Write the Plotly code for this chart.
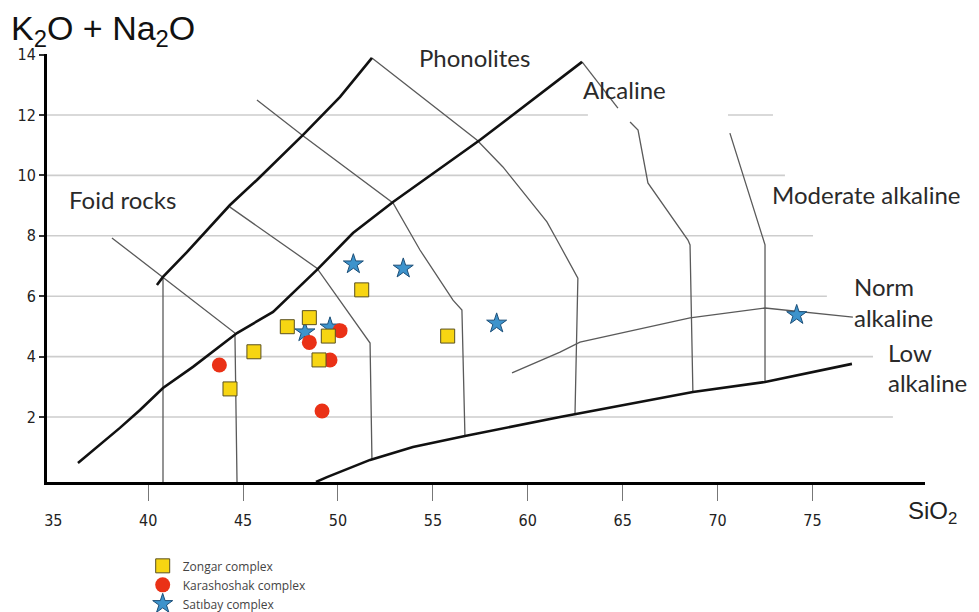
import plotly.graph_objects as go

# ---- sample data ----
zongar_si = [51.25, 48.49, 47.33, 49.49, 45.57, 49.00, 44.31, 55.78]
zongar_alk = [6.21, 5.29, 4.99, 4.68, 4.16, 3.89, 2.93, 4.68]

karash_si = [50.11, 48.49, 49.58, 43.75, 49.16]
karash_alk = [4.86, 4.47, 3.89, 3.72, 2.20]

satibay_si = [50.81, 53.44, 48.26, 49.58, 58.36, 74.17]
satibay_alk = [7.06, 6.92, 4.81, 4.97, 5.10, 5.38]

# ---- classification boundaries (SiO2, K2O+Na2O) ----
alk_lower_si = [36.30, 38.51, 39.57, 40.78, 42.36, 44.68, 46.58, 48.89, 50.79, 52.90, 57.48, 62.86]
alk_lower_tot = [0.48, 1.64, 2.23, 2.96, 3.66, 4.78, 5.48, 6.87, 8.09, 9.12, 11.17, 13.76]

foid_upper_si = [40.46, 40.78, 42.04, 44.31, 45.73, 48.16, 50.11, 51.79]
foid_upper_tot = [6.37, 6.64, 7.46, 9.02, 9.85, 11.34, 12.60, 13.89]

low_alk_si = [48.84, 49.42, 51.69, 53.95, 56.69, 61.70, 68.70, 72.50, 77.08]
low_alk_tot = [-0.15, 0.01, 0.58, 1.01, 1.37, 2.00, 2.83, 3.16, 3.76]

norm_alk_si = [59.17, 61.70, 62.75, 68.55, 72.50, 77.13]
norm_alk_tot = [3.46, 4.15, 4.48, 5.28, 5.61, 5.31]

div1_si = [40.78, 40.78]
div1_tot = [6.60, -0.15]
div2_si = [38.09, 44.57, 44.68]
div2_tot = [7.93, 4.78, -0.15]
div3_si = [44.31, 48.89, 51.69, 51.79]
div3_tot = [8.95, 6.93, 4.45, 0.58]
div4_si = [45.73, 48.10, 52.90, 54.32, 56.06, 56.53, 56.69]
div4_tot = [12.50, 11.34, 9.09, 7.53, 5.87, 5.54, 1.37]
div5_si = [51.79, 57.32, 58.69, 61.01, 61.54, 62.64, 62.49]
div5_tot = [13.89, 11.17, 10.28, 8.46, 7.86, 6.60, 2.13]
div6a_si = [62.86, 64.75]
div6a_tot = [13.76, 12.23]
div6b_si = [65.39, 65.81, 66.33, 68.44, 68.55, 68.70]
div6b_tot = [11.77, 11.50, 9.75, 7.86, 7.70, 2.83]
div7_si = [70.65, 72.39, 72.50, 72.50]
div7_tot = [11.40, 7.86, 7.70, 3.16]

# horizontal guide lines: level, start, end
grid_level = [12, 12, 10, 8, 6, 4, 2]
grid_start = [34.67, 70.55, 34.67, 34.67, 34.67, 34.67, 34.67]
grid_end = [63.17, 72.92, 73.55, 75.03, 75.76, 78.19, 79.24]

x_ticks = [35, 40, 45, 50, 55, 60, 65, 70, 75]
x_minor = [40, 45, 50, 55, 60, 65, 70, 75]
y_ticks = [2, 4, 6, 8, 10, 12, 14]

fig = go.Figure()

# guide lines
for lv, a, b in zip(grid_level, grid_start, grid_end):
    fig.add_trace(go.Scatter(x=[a, b], y=[lv, lv], mode="lines",
                             line=dict(color="#cdcdcd", width=1.6),
                             showlegend=False, hoverinfo="skip"))

thin = [(div1_si, div1_tot), (div2_si, div2_tot), (div3_si, div3_tot),
        (div4_si, div4_tot), (div5_si, div5_tot), (div6a_si, div6a_tot),
        (div6b_si, div6b_tot), (div7_si, div7_tot), (norm_alk_si, norm_alk_tot)]
for xs, ys in thin:
    fig.add_trace(go.Scatter(x=xs, y=ys, mode="lines",
                             line=dict(color="#5a5a5a", width=1.3),
                             showlegend=False, hoverinfo="skip"))

thick = [(alk_lower_si, alk_lower_tot), (foid_upper_si, foid_upper_tot),
         (low_alk_si, low_alk_tot)]
for xs, ys in thick:
    fig.add_trace(go.Scatter(x=xs, y=ys, mode="lines",
                             line=dict(color="#111111", width=2.6),
                             showlegend=False, hoverinfo="skip"))

fig.add_trace(go.Scatter(x=satibay_si, y=satibay_alk, mode="markers",
                         name="Satıbay complex",
                         marker=dict(symbol="star", size=15, color="#3d93cc",
                                     line=dict(color="#1d4f78", width=1))))
fig.add_trace(go.Scatter(x=karash_si, y=karash_alk, mode="markers",
                         name="Karashoshak complex",
                         marker=dict(symbol="circle", size=15, color="#ea3116",
                                     line=dict(width=0))))
fig.add_trace(go.Scatter(x=zongar_si, y=zongar_alk, mode="markers",
                         name="Zongar complex",
                         marker=dict(symbol="square", size=14, color="#f7d512",
                                     line=dict(color="#5a5020", width=1))))

lab_font = dict(family="Lato, Carlito, Open Sans, sans-serif", size=24, color="#2a2a2a")
labels = [
    ("Foid rocks", 38.62, 9.19, "center"),
    ("Phonolites", 57.17, 13.92, "center"),
    ("Alcaline", 65.12, 12.83, "center"),
    ("Moderate alkaline", 77.87, 9.38, "center"),
    ("Norm", 77.06, 6.31, "left"),
    ("alkaline", 77.06, 5.28, "left"),
    ("Low", 78.90, 4.15, "left"),
    ("alkaline", 78.90, 3.13, "left"),
]
for t, x, y, anc in labels:
    fig.add_annotation(text=t, x=x, y=y, xref="x", yref="y", showarrow=False,
                       xanchor=anc, yanchor="middle", font=lab_font)

fig.add_annotation(text="K<sub>2</sub>O + Na<sub>2</sub>O", xref="paper", yref="paper",
                   x=-0.043, y=1.054, xanchor="left", yanchor="middle", showarrow=False,
                   font=dict(family="Liberation Sans, Arial, sans-serif", size=34, color="#111"))
fig.add_annotation(text="SiO<sub>2</sub>", xref="paper", yref="paper",
                   x=0.978, y=-0.072, xanchor="left", yanchor="middle", showarrow=False,
                   font=dict(family="Liberation Sans, Arial, sans-serif", size=24, color="#222"))

tick_font = dict(family="Liberation Sans Narrow, Arial Narrow, DejaVu Sans Condensed, sans-serif",
                 size=16, color="#222")

# the page body adds an 8 px offset, so the figure is 8 px smaller on each axis
fig.update_layout(
    width=971, height=604,
    margin=dict(l=39, r=54, t=46, b=130, autoexpand=False),
    paper_bgcolor="white", plot_bgcolor="white",
    showlegend=True,
    legend=dict(x=0.109, y=-0.162, xanchor="left", yanchor="top",
                traceorder="reversed", bgcolor="rgba(0,0,0,0)",
                font=dict(family="Open Sans, Noto Sans, sans-serif", size=12, color="#444"),
                itemwidth=30),
    xaxis=dict(range=[34.668, 80.93], showgrid=False, zeroline=False,
               showline=True, linecolor="#000", linewidth=3,
               tickmode="array", tickvals=x_ticks, ticks="",
               ticklabelstandoff=22, tickfont=tick_font,
               minor=dict(tickmode="array", tickvals=x_minor, ticks="outside",
                          ticklen=16, tickcolor="#777", tickwidth=1)),
    yaxis=dict(range=[-0.152, 14.02], showgrid=False, zeroline=False,
               showline=True, linecolor="#000", linewidth=3,
               tickmode="array", tickvals=y_ticks, ticks="outside",
               ticklen=5, tickcolor="#333", tickwidth=1.5, tickfont=tick_font),
)

fig.write_html("out.html")
